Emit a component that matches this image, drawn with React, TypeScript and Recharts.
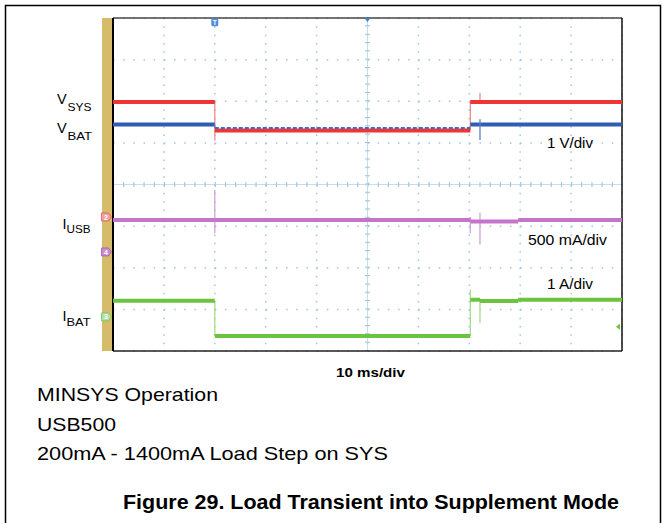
import React from 'react';
import {
  ComposedChart,
  Line,
  XAxis,
  YAxis,
  CartesianGrid,
  ReferenceLine,
  ReferenceArea,
  ReferenceDot,
} from 'recharts';

// ---- axes: 10 ms/div over 10 divisions, 8 vertical divisions ----
const timeTicks = [0, 10, 20, 30, 40, 50, 60, 70, 80, 90, 100];
const divTicks = [0, 1, 2, 3, 4, 5, 6, 7, 8];

// ---- traces (screen divisions) : [start ms, end ms, level] ----
const vsysSteps = [
  [0, 20, 5.98],
  [20, 70.2, 5.3],
  [70.2, 100, 5.98],
];
const vbatSteps = [
  [0, 20, 5.44],
  [70.2, 100, 5.44],
];
const vbatLowSteps = [[20, 70.2, 5.36]];
const iusbSteps = [
  [0, 70.2, 3.15],
  [70.2, 79.6, 3.11],
  [79.6, 100, 3.15],
];
const ibatSteps = [
  [0, 20, 1.21],
  [20, 70.2, 0.36],
  [70.2, 72.1, 1.23],
  [72.1, 79.6, 1.2],
  [79.6, 100, 1.23],
];

// ---- edges / spikes : [time ms, low, high] ----
const vsysEdges = [
  [20, 5.05, 5.98],
  [70.2, 5.3, 5.98],
  [72.1, 5.98, 6.2],
];
const vbatEdges = [
  [20, 5.36, 5.44],
  [72.1, 5.07, 5.57],
];
const iusbEdges = [
  [20, 2.83, 3.87],
  [70.2, 2.83, 3.22],
  [72.1, 2.55, 3.32],
];
const ibatEdges = [
  [20, 0.36, 1.21],
  [70.2, 0.36, 1.47],
  [72.1, 0.67, 1.23],
];

// ---- channel ground markers on the left strip ----
const channelLabels = ['2', '4', '3'];
const channelLevels = [3.22, 2.38, 0.82];
const channelColors = ['#f0a0a0', '#c88ccf', '#b3e0a6'];
const channelBorders = ['#e05a5a', '#a45aae', '#73c35a'];

const triggerTime = 20;
const triggerLevel = 7.9;

const RED = '#ef3434';
const BLUE = '#2f5db3';
const MAGENTA = '#c575c9';
const GREEN = '#6cc43e';

type Row = { t: number; v: number | null };
const stepData = (steps: number[][]): Row[] =>
  steps.flatMap(([a, b, v]) => [
    { t: a, v },
    { t: b, v },
    { t: b, v: null },
  ]);
const edgeData = (edges: number[][]): Row[] =>
  edges.flatMap(([t, lo, hi]) => [
    { t, v: lo },
    { t, v: hi },
    { t, v: null },
  ]);

const lineCommon = {
  type: 'linear' as const,
  dataKey: 'v',
  dot: false,
  activeDot: false,
  isAnimationActive: false,
  connectNulls: false,
  strokeLinecap: 'butt' as const,
};

const Tag = (props: any) => {
  const { cx, cy, label, fill, border } = props;
  if (cx == null || cy == null) return null;
  return (
    <g>
      <path
        d={`M${cx - 5},${cy - 4} h7 l3,4 l-3,4 h-7 z`}
        fill={fill}
        stroke={border}
        strokeWidth={0.8}
      />
      <text x={cx - 0.5} y={cy + 2.6} fontSize={7} fill="#fff" textAnchor="middle" fontFamily="'Liberation Sans', Arial, sans-serif" fontWeight="bold">
        {label}
      </text>
    </g>
  );
};

const TriggerTag = (props: any) => {
  const { cx, cy } = props;
  if (cx == null || cy == null) return null;
  return (
    <g>
      <rect x={cx - 3.5} y={cy - 4} width={7} height={8} rx={1.5} fill="#4d8fd8" />
      <text x={cx} y={cy + 2.5} fontSize={6.5} fill="#fff" textAnchor="middle" fontFamily="'Liberation Sans', Arial, sans-serif" fontWeight="bold">
        T
      </text>
    </g>
  );
};

const TopTriangle = (props: any) => {
  const { cx, cy } = props;
  if (cx == null || cy == null) return null;
  return <path d={`M${cx - 3},${cy} L${cx + 3},${cy} L${cx},${cy + 4} z`} fill="#3f7fcb" />;
};

const LeftArrow = (props: any) => {
  const { cx, cy } = props;
  if (cx == null || cy == null) return null;
  return <path d={`M${cx - 3},${cy} L${cx + 1},${cy - 3} L${cx + 1},${cy + 3} z`} fill={GREEN} />;
};

const FONT = "'Liberation Sans', Arial, Helvetica, sans-serif";

export default function App() {
  return (
    <div
      style={{
        position: 'absolute',
        left: 0,
        top: 0,
        width: 669,
        height: 523,
        overflow: 'hidden',
        background: '#fff',
      }}
    >
      <ComposedChart
        width={669}
        height={523}
        margin={{ top: 18, right: 47, bottom: 172, left: 113 }}
        style={{ position: 'absolute', left: 0, top: 0 }}
      >
        <XAxis
          type="number"
          dataKey="t"
          domain={[0, 100]}
          ticks={timeTicks}
          allowDataOverflow
          hide
        />
        <YAxis type="number" domain={[0, 8]} ticks={divTicks} allowDataOverflow hide />

        <ReferenceArea
          x1={-2.16}
          x2={0}
          y1={0}
          y2={8}
          fill="#d6bb6b"
          fillOpacity={1}
          stroke="none"
          ifOverflow="visible"
        />

        <CartesianGrid
          horizontal
          vertical={false}
          stroke="#9cc6e8"
          strokeWidth={1.5}
          strokeDasharray="1.5 8.68"
        />
        <CartesianGrid
          horizontal={false}
          vertical
          stroke="#9cc6e8"
          strokeWidth={1.5}
          strokeDasharray="1.5 6.825"
        />

        <ReferenceLine y={4} stroke="#cadcee" strokeWidth={1} />
        <ReferenceLine y={4} stroke="#98c3e6" strokeWidth={5} strokeDasharray="1 9.18" />
        <ReferenceLine x={50} stroke="#cadcee" strokeWidth={1} />
        <ReferenceLine x={50} stroke="#98c3e6" strokeWidth={5} strokeDasharray="1 7.325" />

        {/* plot frame */}
        <ReferenceLine y={8} stroke="#444" strokeWidth={1.3} />
        <ReferenceLine y={0} stroke="#222" strokeWidth={1.5} />
        <ReferenceLine x={100} stroke="#111" strokeWidth={1.5} />
        <ReferenceLine x={0} stroke="#000" strokeWidth={2} />

        {/* thin edges and spikes */}
        <Line {...lineCommon} data={edgeData(vsysEdges)} stroke="#f28a8a" strokeWidth={1.3} />
        <Line {...lineCommon} data={edgeData(iusbEdges)} stroke="#d8a2da" strokeWidth={1.3} />
        <Line {...lineCommon} data={edgeData(ibatEdges)} stroke="#a9dc8a" strokeWidth={1.3} />

        {/* thick levels */}
        <Line {...lineCommon} data={stepData(vsysSteps)} stroke={RED} strokeWidth={4} />
        <Line {...lineCommon} data={stepData(vbatSteps)} stroke={BLUE} strokeWidth={4} />
        <Line
          {...lineCommon}
          data={stepData(vbatLowSteps)}
          stroke="#3f6cc0"
          strokeWidth={2}
          strokeDasharray="4 2"
        />
        <Line {...lineCommon} data={edgeData(vbatEdges)} stroke="#5a80c8" strokeWidth={1.3} />
        <Line {...lineCommon} data={stepData(iusbSteps)} stroke={MAGENTA} strokeWidth={4} />
        <Line {...lineCommon} data={stepData(ibatSteps)} stroke={GREEN} strokeWidth={4} />

        {/* markers */}
        {channelLabels.map((lab, i) => (
          <ReferenceDot
            key={lab}
            x={-1.28}
            y={channelLevels[i]}
            ifOverflow="visible"
            shape={(p: any) => (
              <Tag {...p} label={lab} fill={channelColors[i]} border={channelBorders[i]} />
            )}
          />
        ))}
        <ReferenceDot x={triggerTime} y={triggerLevel} ifOverflow="visible" shape={(p: any) => <TriggerTag {...p} />} />
        <ReferenceDot x={50} y={8} ifOverflow="visible" shape={(p: any) => <TopTriangle {...p} />} />
        <ReferenceDot x={99.4} y={0.58} ifOverflow="visible" shape={(p: any) => <LeftArrow {...p} />} />
      </ComposedChart>

      <svg
        width={669}
        height={523}
        style={{ position: 'absolute', left: 0, top: 0, pointerEvents: 'none' }}
      >
        {/* outer frame */}
        <path d="M5.5,523 V5.5 H660.5 V523" fill="none" stroke="#000" strokeWidth={1.5} />

        <g fontFamily={FONT} fill="#000">
          {/* channel names */}
          <text x={57} y={103.5} fontSize={14.5}>V</text>
          <text x={67.5} y={110.5} fontSize={10.5} textLength={24} lengthAdjust="spacingAndGlyphs">SYS</text>
          <text x={57} y={132.7} fontSize={14.5}>V</text>
          <text x={67.5} y={139.5} fontSize={10.5} textLength={24.5} lengthAdjust="spacingAndGlyphs">BAT</text>
          <text x={62.5} y={228.5} fontSize={14.5}>I</text>
          <text x={66.5} y={232.5} fontSize={10.5} textLength={24} lengthAdjust="spacingAndGlyphs">USB</text>
          <text x={62.5} y={320.5} fontSize={14.5}>I</text>
          <text x={66.5} y={325.5} fontSize={10.5} textLength={24} lengthAdjust="spacingAndGlyphs">BAT</text>

          {/* scale annotations */}
          <text x={547} y={148} fontSize={14} textLength={46} lengthAdjust="spacingAndGlyphs">1 V/div</text>
          <text x={528} y={245} fontSize={14} textLength={79} lengthAdjust="spacingAndGlyphs">500 mA/div</text>
          <text x={547} y={289} fontSize={14} textLength={46} lengthAdjust="spacingAndGlyphs">1 A/div</text>
          <text x={336} y={377} fontSize={13.5} fontWeight="bold" textLength={69} lengthAdjust="spacingAndGlyphs">10 ms/div</text>

          {/* conditions */}
          <text x={37} y={401} fontSize={19} textLength={181} lengthAdjust="spacingAndGlyphs">MINSYS Operation</text>
          <text x={37} y={430.5} fontSize={19} textLength={79} lengthAdjust="spacingAndGlyphs">USB500</text>
          <text x={37} y={459.5} fontSize={19} textLength={351} lengthAdjust="spacingAndGlyphs">200mA - 1400mA Load Step on SYS</text>

          {/* caption */}
          <text x={123} y={509} fontSize={20} fontWeight="bold" textLength={496} lengthAdjust="spacingAndGlyphs">
            Figure 29. Load Transient into Supplement Mode
          </text>
        </g>
      </svg>
    </div>
  );
}
